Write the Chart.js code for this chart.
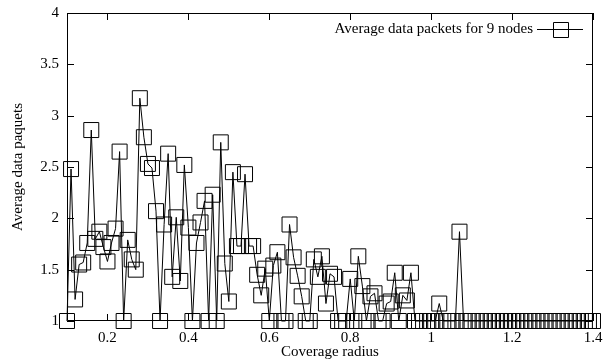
<!DOCTYPE html>
<html>
<head>
<meta charset="utf-8">
<script src="https://cdn.jsdelivr.net/npm/chart.js@4.4.0/dist/chart.umd.min.js"></script>
<style>
  html, body { margin: 0; padding: 0; background: #fff; }
  #wrap { width: 605px; height: 364px; }
</style>
</head>
<body>
<div id="wrap"><canvas id="chart"></canvas></div>
<script>
// coverage radius (x), 0.10 .. 1.40
const radius = [
  0.10, 0.11, 0.12, 0.13, 0.14, 0.15, 0.16, 0.17, 0.18, 0.19,
  0.20, 0.21, 0.22, 0.23, 0.24, 0.25, 0.26, 0.27, 0.28, 0.29,
  0.30, 0.31, 0.32, 0.33, 0.34, 0.35, 0.36, 0.37, 0.38, 0.39,
  0.40, 0.41, 0.42, 0.43, 0.44, 0.45, 0.46, 0.47, 0.48, 0.49,
  0.50, 0.51, 0.52, 0.53, 0.54, 0.55, 0.56, 0.57, 0.58, 0.59,
  0.60, 0.61, 0.62, 0.63, 0.64, 0.65, 0.66, 0.67, 0.68, 0.69,
  0.70, 0.71, 0.72, 0.73, 0.74, 0.75, 0.76, 0.77, 0.78, 0.79,
  0.80, 0.81, 0.82, 0.83, 0.84, 0.85, 0.86, 0.87, 0.88, 0.89,
  0.90, 0.91, 0.92, 0.93, 0.94, 0.95, 0.96, 0.97, 0.98, 0.99,
  1.00, 1.01, 1.02, 1.03, 1.04, 1.05, 1.06, 1.07, 1.08, 1.09,
  1.10, 1.11, 1.12, 1.13, 1.14, 1.15, 1.16, 1.17, 1.18, 1.19,
  1.20, 1.21, 1.22, 1.23, 1.24, 1.25, 1.26, 1.27, 1.28, 1.29,
  1.30, 1.31, 1.32, 1.33, 1.34, 1.35, 1.36, 1.37, 1.38, 1.39,
  1.40
];

// average data packets for 9 nodes
const packets = [
  1.00, 2.48, 1.21, 1.55, 1.57, 1.76, 2.86, 1.80, 1.87, 1.72,
  1.58, 1.76, 1.90, 2.65, 1.00, 1.79, 1.60, 1.50, 3.17, 2.79,
  2.53, 2.49, 2.07, 1.00, 1.94, 2.63, 1.43, 2.01, 1.39, 2.52,
  1.91, 1.00, 1.76, 1.96, 2.17, 1.00, 2.23, 1.00, 2.74, 1.56,
  1.19, 2.45, 1.73, 1.73, 2.43, 1.73, 1.73, 1.45, 1.25, 1.51,
  1.00, 1.54, 1.67, 1.00, 1.00, 1.94, 1.62, 1.44, 1.24, 1.00,
  1.00, 1.60, 1.43, 1.63, 1.17, 1.46, 1.43, 1.00, 1.00, 1.00,
  1.41, 1.00, 1.63, 1.34, 1.00, 1.24, 1.27, 1.00, 1.00, 1.17,
  1.19, 1.47, 1.00, 1.25, 1.20, 1.47, 1.00, 1.00, 1.00, 1.00,
  1.00, 1.00, 1.17, 1.00, 1.00, 1.00, 1.00, 1.87, 1.00, 1.00,
  1.00, 1.00, 1.00, 1.00, 1.00, 1.00, 1.00, 1.00, 1.00, 1.00,
  1.00, 1.00, 1.00, 1.00, 1.00, 1.00, 1.00, 1.00, 1.00, 1.00,
  1.00, 1.00, 1.00, 1.00, 1.00, 1.00, 1.00, 1.00, 1.00, 1.00,
  1.00
];

const xTicks = [0.2, 0.4, 0.6, 0.8, 1, 1.2, 1.4];
const yTicks = [1, 1.5, 2, 2.5, 3, 3.5, 4];
const seriesLabel = 'Average data packets for 9 nodes';

const FONT = 'Liberation Serif, Times New Roman, serif';

// gnuplot style: full frame, ticks pointing inward on all four sides, key inside top right
const gnuplotFrame = {
  id: 'gnuplotFrame',
  beforeDatasetsDraw(chart) {
    const { ctx, chartArea: a, scales: { x, y } } = chart;
    const t = 7;
    ctx.save();
    ctx.strokeStyle = '#000';
    ctx.lineWidth = 1;
    ctx.beginPath();
    ctx.rect(a.left + 0.5, a.top + 0.5, a.width - 1, a.height - 1);
    x.ticks.forEach(tk => {
      const px = Math.round(x.getPixelForValue(tk.value)) + 0.5;
      ctx.moveTo(px, a.bottom); ctx.lineTo(px, a.bottom - t);
      ctx.moveTo(px, a.top); ctx.lineTo(px, a.top + t);
    });
    y.ticks.forEach(tk => {
      const py = Math.round(y.getPixelForValue(tk.value)) + 0.5;
      ctx.moveTo(a.left, py); ctx.lineTo(a.left + t, py);
      ctx.moveTo(a.right, py); ctx.lineTo(a.right - t, py);
    });
    ctx.stroke();
    ctx.restore();
  },
  afterDraw(chart) {
    const { ctx, chartArea: a } = chart;
    const ds = chart.data.datasets[0];
    const cy = a.top + 16;
    const lineR = a.right - 10, lineL = lineR - 46;
    ctx.save();
    ctx.font = '15px ' + FONT;
    ctx.fillStyle = '#000';
    ctx.textAlign = 'right';
    ctx.textBaseline = 'middle';
    ctx.fillText(ds.label, lineL - 4, cy);
    ctx.strokeStyle = '#000';
    ctx.lineWidth = 1;
    ctx.beginPath();
    ctx.moveTo(lineL, cy + 0.5); ctx.lineTo(lineR, cy + 0.5);
    const m = (lineL + lineR) / 2;
    ctx.rect(Math.round(m - 7.5) + 0.5, Math.round(cy - 7.5) + 0.5, 15, 15);
    ctx.stroke();
    ctx.restore();
  }
};

new Chart(document.getElementById('chart'), {
  type: 'line',
  data: {
    datasets: [{
      label: seriesLabel,
      data: radius.map((r, i) => ({ x: r, y: packets[i] })),
      borderColor: '#000',
      borderWidth: 1,
      backgroundColor: 'rgba(0,0,0,0)',
      pointStyle: 'rect',
      pointRadius: 10.6,
      pointBorderWidth: 1,
      pointBorderColor: '#000',
      pointBackgroundColor: 'rgba(0,0,0,0)',
      tension: 0,
      clip: false
    }]
  },
  options: {
    responsive: true,
    maintainAspectRatio: false,
    animation: false,
    layout: { padding: { top: 13, right: 12, left: 0, bottom: 0 } },
    plugins: {
      legend: { display: false },
      tooltip: { enabled: false }
    },
    scales: {
      x: {
        type: 'linear',
        min: 0.1,
        max: 1.4,
        afterBuildTicks: s => { s.ticks = xTicks.map(v => ({ value: v })); },
        afterFit: s => { s.height = 43; s.paddingLeft = 0; s.paddingRight = 0; },
        grid: { display: false, drawTicks: false },
        border: { display: false },
        ticks: {
          color: '#000',
          font: { family: FONT, size: 15 },
          padding: 8,
          maxRotation: 0,
          callback: v => String(Math.round(v * 10) / 10)
        },
        title: {
          display: true,
          text: 'Coverage radius',
          color: '#000',
          font: { family: FONT, size: 15 },
          padding: { top: 0, bottom: 3 }
        }
      },
      y: {
        min: 1,
        max: 4,
        afterBuildTicks: s => { s.ticks = yTicks.map(v => ({ value: v })); },
        afterFit: s => { s.width = 67; s.paddingTop = 0; s.paddingBottom = 0; },
        grid: { display: false, drawTicks: false },
        border: { display: false },
        ticks: {
          color: '#000',
          font: { family: FONT, size: 15 },
          padding: 8,
          callback: v => String(v)
        },
        title: {
          display: true,
          text: 'Average data paquets',
          color: '#000',
          font: { family: FONT, size: 15 },
          padding: { top: 9, bottom: 0 }
        }
      }
    }
  },
  plugins: [gnuplotFrame]
});
</script>
</body>
</html>
